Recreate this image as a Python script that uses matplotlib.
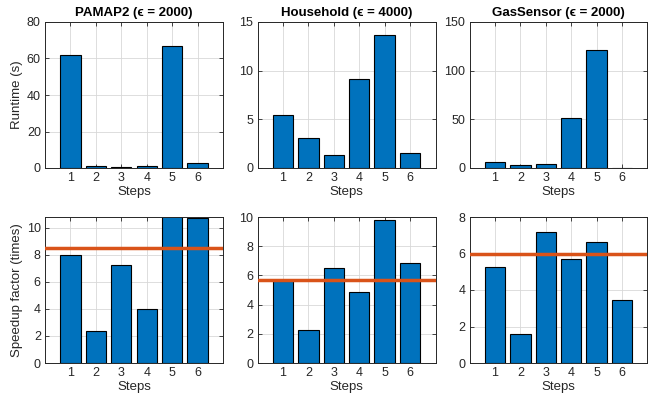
import matplotlib

matplotlib.use("Agg")
import matplotlib.pyplot as plt  # noqa: E402

plt.rcParams["font.family"] = ["Liberation Sans", "DejaVu Sans"]

steps = [1, 2, 3, 4, 5, 6]
datasets = ["PAMAP2", "Household", "GasSensor"]
epsilons = [2000, 4000, 2000]

runtime_pamap2 = [61.8, 1.3, 0.5, 1.3, 66.6, 2.7]
runtime_household = [5.4, 3.1, 1.3, 9.1, 13.7, 1.5]
runtime_gas = [5.8, 3.4, 3.7, 51.8, 121.0, 0.5]

speedup_pamap2 = [8.02, 2.35, 7.23, 4.0, 10.85, 10.74]
speedup_household = [5.65, 2.29, 6.54, 4.83, 9.82, 6.82]
speedup_gas = [5.26, 1.58, 7.16, 5.71, 6.61, 3.46]

mean_speedup = [8.52, 5.7, 5.99]

runtime_ylim = [80, 15, 150]
runtime_yticks = [[0, 20, 40, 60, 80], [0, 5, 10, 15], [0, 50, 100, 150]]
speedup_ylim = [10.8, 10, 8]
speedup_yticks = [[0, 2, 4, 6, 8, 10], [0, 2, 4, 6, 8, 10], [0, 2, 4, 6, 8]]

runtimes = [runtime_pamap2, runtime_household, runtime_gas]
speedups = [speedup_pamap2, speedup_household, speedup_gas]

BLUE = "#0072BD"
ORANGE = "#D95319"
AXC = "#262626"

fig = plt.figure(figsize=(6.59, 4.01), dpi=100)
W, H = 659, 401
lefts = [45, 257.5, 469.5]
width = 178
tops = [22, 217]
height = 146


def style(ax, ylim, yticks):
    ax.set_xlim(0, 7)
    ax.set_ylim(0, ylim)
    ax.set_xticks(steps)
    ax.set_yticks(yticks)
    ax.grid(True, color="#d8d8d8", linewidth=0.6)
    ax.set_axisbelow(True)
    ax.tick_params(direction="in", length=3, width=0.6, colors=AXC,
                   labelsize=9, top=True, right=True, pad=3)
    for s in ax.spines.values():
        s.set_color(AXC)
        s.set_linewidth(0.7)
    ax.set_xlabel("Steps", fontsize=9.5, color=AXC, labelpad=1)


for i in range(3):
    ax = fig.add_axes([lefts[i] / W, 1 - (tops[0] + height) / H, width / W, height / H])
    ax.bar(steps, runtimes[i], width=0.8, color=BLUE, edgecolor="black", linewidth=0.8, zorder=2)
    style(ax, runtime_ylim[i], runtime_yticks[i])
    ax.set_title(f"{datasets[i]} (\u03f5 = {epsilons[i]})", fontsize=9.5,
                 fontweight="bold", pad=4)
    if i == 0:
        ax.set_ylabel("Runtime (s)", fontsize=9.5, color=AXC, labelpad=3)

    ax2 = fig.add_axes([lefts[i] / W, 1 - (tops[1] + height) / H, width / W, height / H])
    ax2.bar(steps, speedups[i], width=0.8, color=BLUE, edgecolor="black", linewidth=0.8, zorder=2)
    ax2.axhline(mean_speedup[i], color=ORANGE, linewidth=2.5, zorder=3)
    style(ax2, speedup_ylim[i], speedup_yticks[i])
    if i == 0:
        ax2.set_ylabel("Speedup factor (times)", fontsize=9.5, color=AXC, labelpad=3)

fig.savefig("out.png", dpi=100)
plt.close(fig)
